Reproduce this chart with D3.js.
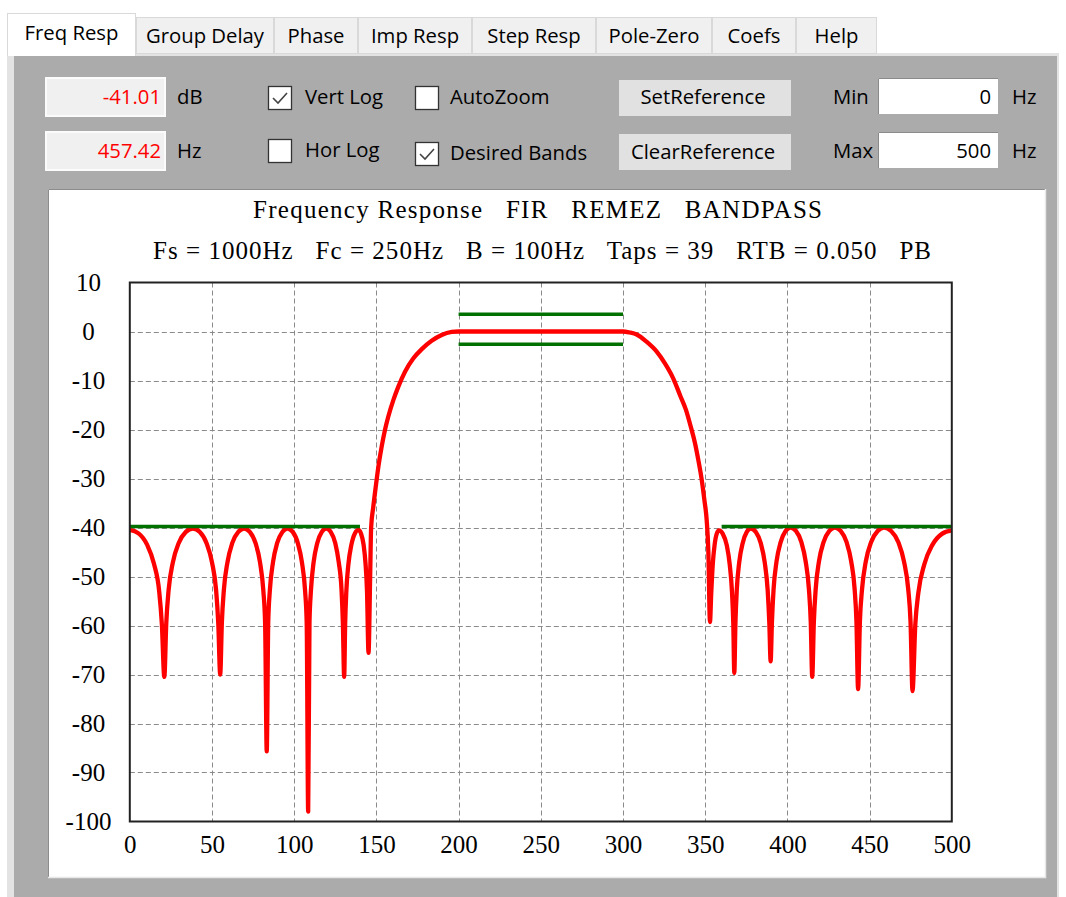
<!DOCTYPE html>
<html><head><meta charset="utf-8">
<script src="https://cdn.jsdelivr.net/npm/d3@7"></script>
<style>
html,body{margin:0;padding:0;background:#fff;overflow:hidden;}
svg{display:block;}
.ui{font-family:"Open Sans","Noto Sans",sans-serif;font-size:20.3px;fill:#000;}
.serif{font-family:"Liberation Serif","DejaVu Serif",serif;font-size:25px;fill:#000;}
</style></head><body>
<svg id="c" width="1066" height="897"></svg>
<script>
// ---------- data ----------
const tabLabels = ["Freq Resp","Group Delay","Phase","Imp Resp","Step Resp","Pole-Zero","Coefs","Help"];
const titleLine1 = "Frequency Response   FIR   REMEZ   BANDPASS";
const titleLine2 = "Fs = 1000Hz   Fc = 250Hz   B = 100Hz   Taps = 39   RTB = 0.050   PB";
const readoutDb = "-41.01";
const readoutHz = "457.42";
const minHz = "0";
const maxHz = "500";
const checkLabels = ["Vert Log","Hor Log","AutoZoom","Desired Bands"];
const checkStates = [true,false,false,true];
const buttonLabels = ["SetReference","ClearReference"];

const xTicks = [0,50,100,150,200,250,300,350,400,450,500];
const yTicks = [10,0,-10,-20,-30,-40,-50,-60,-70,-80,-90,-100];

const freqHz = [0,5.3,10.5,14.7,17.9,19.5,21.0,22.2,23.6,26.2,29.7,34.1,38.4,42.6,46.7,50.0,52.5,53.8,55.0,
 56.0,57.2,59.4,62.3,66.0,69.6,73.0,76.5,79.2,81.2,82.3,83.3,84.2,85.2,87.1,89.6,92.8,95.9,99.1,102.2,104.7,
 106.6,107.6,108.5,109.3,110.2,111.8,114.0,116.8,119.5,122.2,125.0,127.1,128.8,129.6,130.4,131.0,131.7,133.0,
 134.8,136.9,139.1,140.6,142.2,143.4,144.3,145.2,146.2,146.8,148.1,149.6,151.2,153.2,155.2,157.2,160.3,163.3,
 167.4,172.4,177.6,183.6,189.7,195.8,200.0,250.0,300.0,304.0,308.3,314.4,320.5,325.5,330.6,334.7,338.3,341.2,
 343.8,345.8,347.9,349.5,350.9,351.9,352.9,353.7,354.6,355.7,357.0,358.4,360.7,363.1,364.9,366.3,367.1,367.7,
 368.4,369.2,370.7,372.8,375.3,377.8,380.8,383.8,386.2,388.0,389.0,389.8,390.6,391.6,393.4,395.9,398.9,401.9,
 405.2,408.5,411.1,413.1,414.2,415.1,416.1,417.2,419.2,422.0,425.5,428.9,432.4,436.0,438.8,440.9,442.0,443.0,
 444.1,445.4,447.7,450.9,454.9,458.8,463.1,467.5,470.9,473.5,474.9,476.1,477.8,479.7,483.3,488.1,494.0,500.0];
const magDb = [-40.5,-41.2,-43.5,-47.4,-53.1,-59.7,-70.5,-59.4,-52.8,-47.1,-43.2,-40.9,-40.2,-40.9,-43.2,-47.1,-52.8,-59.4,-70.0,
 -59.4,-52.8,-47.1,-43.2,-40.9,-40.2,-40.9,-43.2,-47.1,-52.8,-59.4,-85.7,-59.4,-52.8,-47.1,-43.2,-40.9,-40.2,-40.9,-43.2,-47.1,
 -52.8,-59.4,-98.0,-59.4,-52.8,-47.1,-43.2,-40.9,-40.2,-40.9,-43.2,-47.1,-52.8,-59.4,-70.5,-59.7,-53.1,-47.4,
 -43.5,-41.2,-40.5,-41.2,-43.5,-47.4,-53.1,-65.6,-50.0,-40.0,-35.8,-31.7,-27.6,-23.5,-20.1,-17.4,-14.0,-11.3,
 -8.2,-5.5,-3.6,-1.9,-0.7,-0.1,0.0,0.0,0.0,-0.2,-0.6,-2.1,-4.1,-6.5,-9.6,-13.0,-16.0,-19.4,
 -22.8,-26.2,-30.3,-34.4,-38.5,-44.7,-59.3,-53.2,-47.5,-43.6,-41.3,-40.6,-41.3,-43.6,-47.5,-53.2,-59.8,-69.7,
 -59.4,-52.8,-47.1,-43.2,-40.9,-40.2,-40.9,-43.2,-47.1,-52.8,-59.4,-67.3,-59.2,-52.6,-46.9,-43.0,-40.7,-40.0,
 -40.7,-43.0,-46.9,-52.6,-59.2,-70.5,-59.2,-52.6,-46.9,-43.0,-40.7,-40.0,-40.7,-43.0,-46.9,-52.6,-59.2,-73.0,
 -59.2,-52.6,-46.9,-43.0,-40.7,-40.0,-40.7,-43.0,-46.9,-52.6,-59.2,-73.4,-59.8,-53.2,-47.5,-43.6,-41.3,-40.6];

const passbandHz = [200,300];
const passbandLimitsDb = [3.5,-2.6];
const stopbandsHz = [[0,140],[360,500]];
const stopbandDb = -40;

// ---------- layout ----------
const svg = d3.select("#c");
const W = 1066, H = 897;
const tabEdges = [7,136,274,358,472,596,712,796,877];

svg.append("rect").attr("x",0).attr("y",0).attr("width",W).attr("height",H).attr("fill","#fff");
svg.append("rect").attr("x",7).attr("y",53).attr("width",1052).attr("height",H-53).attr("fill","#e3e3e3");
svg.append("rect").attr("x",14).attr("y",56).attr("width",1043).attr("height",H-56).attr("fill","#ababab");

// tabs
const tabs = svg.append("g");
tabLabels.forEach((t,i)=>{
  const x0 = tabEdges[i], x1 = tabEdges[i+1];
  const sel = i===0;
  tabs.append("rect").attr("x",x0+0.5).attr("y",sel?13.5:17.5)
    .attr("width",x1-x0-1).attr("height",sel?42:36)
    .attr("fill",sel?"#fff":"#f0f0f0").attr("stroke","#d9d9d9").attr("stroke-width",1);
  tabs.append("text").attr("class","ui").attr("x",(x0+x1)/2).attr("y",sel?40:43)
    .attr("text-anchor","middle").text(t);
});
svg.append("rect").attr("x",8).attr("y",53).attr("width",127).attr("height",3).attr("fill","#fff");

// readouts
function readout(y, val, unit){
  svg.append("rect").attr("x",46).attr("y",y).attr("width",119).attr("height",38)
    .attr("fill","#f0f0f0").attr("stroke","#fbfbfb").attr("stroke-width",2);
  svg.append("text").attr("class","ui").attr("x",161).attr("y",y+26).attr("text-anchor","end")
    .style("fill","#ff0000").text(val);
  svg.append("text").attr("class","ui").attr("x",177).attr("y",y+26).text(unit);
}
readout(78, readoutDb, "dB");
readout(132, readoutHz, "Hz");

// checkboxes
const checkPos = [[268,86,305,104],[268,139,305,157],[415,86,450,104],[415,142,450,160]];
checkLabels.forEach((lab,i)=>{
  const [bx,by,tx,ty] = checkPos[i];
  svg.append("rect").attr("x",bx+0.5).attr("y",by+0.5).attr("width",23).attr("height",23)
    .attr("fill","#fff").attr("stroke","#333").attr("stroke-width",1.3);
  if(checkStates[i]){
    svg.append("path").attr("d",`M${bx+5},${by+12} L${bx+10},${by+17} L${bx+19},${by+7}`)
      .attr("fill","none").attr("stroke","#444").attr("stroke-width",1.6);
  }
  svg.append("text").attr("class","ui").attr("x",tx).attr("y",ty).text(lab);
});

// buttons
[[80,104],[134,159]].forEach(([y,ty],i)=>{
  svg.append("rect").attr("x",619).attr("y",y).attr("width",172).attr("height",36).attr("fill","#e1e1e1");
  svg.append("text").attr("class","ui").attr("x",703).attr("y",ty).attr("text-anchor","middle").text(buttonLabels[i]);
});

// min / max
function rangeBox(y, lab, val, ty){
  svg.append("text").attr("class","ui").attr("x",833).attr("y",ty).text(lab);
  svg.append("rect").attr("x",878).attr("y",y).attr("width",120).attr("height",36).attr("fill","#fff");
  svg.append("path").attr("d",`M878.5,${y+36} V${y+0.5} H998`).attr("fill","none").attr("stroke","#8a8a8a");
  svg.append("text").attr("class","ui").attr("x",991).attr("y",ty).attr("text-anchor","end").text(val);
  svg.append("text").attr("class","ui").attr("x",1012).attr("y",ty).text("Hz");
}
rangeBox(78,"Min",minHz,104);
rangeBox(132,"Max",maxHz,158);

// chart panel
svg.append("rect").attr("x",48).attr("y",189).attr("width",997).attr("height",688).attr("fill","#fff");
svg.append("path").attr("d","M48.5,877 V189.5 H1045").attr("fill","none").attr("stroke","#8c8c8c").attr("stroke-width",1);
svg.append("path").attr("d","M1045.5,189 V877.5 H48").attr("fill","none").attr("stroke","#e8e8e8").attr("stroke-width",1.5);

// scales
const x = d3.scaleLinear().domain([0,500]).range([129.8,951.8]);
const y = d3.scaleLinear().domain([-100,10]).range([821.5,282.5]);

// titles
svg.append("text").attr("class","serif").attr("x",253).attr("y",218)
  .attr("textLength",569).attr("lengthAdjust","spacing")
  .style("white-space","pre").text(titleLine1);
svg.append("text").attr("class","serif").attr("x",153).attr("y",259)
  .attr("textLength",778).attr("lengthAdjust","spacing")
  .style("white-space","pre").text(titleLine2);

// grid
const grid = svg.append("g").attr("stroke","#8a8a8a").attr("stroke-width",1).attr("stroke-dasharray","5,3");
xTicks.filter(v=>v>0&&v<500).forEach(v=>{
  grid.append("line").attr("x1",Math.round(x(v))+0.5).attr("x2",Math.round(x(v))+0.5)
    .attr("y1",y(10)).attr("y2",y(-100));
});
yTicks.filter(v=>v<10&&v>-100).forEach(v=>{
  grid.append("line").attr("y1",Math.round(y(v))+0.5).attr("y2",Math.round(y(v))+0.5)
    .attr("x1",x(0)).attr("x2",x(500));
});

// axes labels via d3 axes
const fmt = d => String(d);
const xAxis = svg.append("g").attr("transform",`translate(0,${y(-100)})`)
  .call(d3.axisBottom(x).tickValues(xTicks).tickSize(0).tickPadding(0).tickFormat(fmt));
xAxis.select(".domain").remove();
xAxis.selectAll("text").attr("class","serif").attr("y",31.5).attr("dy",null).attr("fill",null);
xAxis.attr("font-size",null).attr("font-family",null);

const yAxis = svg.append("g").attr("transform",`translate(88.5,0)`)
  .call(d3.axisLeft(y).tickValues(yTicks).tickSize(0).tickPadding(0).tickFormat(fmt));
yAxis.select(".domain").remove();
yAxis.selectAll("text").attr("class","serif").attr("x",0).attr("dy","0.3em").attr("text-anchor","middle")
  .attr("fill",null);
yAxis.attr("font-size",null).attr("font-family",null).attr("text-anchor",null);

// response curve
const pts = freqHz.map((f,i)=>[f,magDb[i]]);
const line = d3.line().x(d=>x(d[0])).y(d=>y(d[1])).curve(d3.curveMonotoneX);
svg.append("path").datum(pts).attr("d",line).attr("fill","none")
  .attr("stroke","#ff0000").attr("stroke-width",4.3).attr("stroke-linejoin","round");

// desired bands
const green = svg.append("g").attr("stroke","#007000").attr("stroke-width",3.5);
passbandLimitsDb.forEach(db=>{
  green.append("line").attr("x1",x(passbandHz[0])).attr("x2",x(passbandHz[1]))
    .attr("y1",y(db)).attr("y2",y(db));
});
stopbandsHz.forEach(b=>{
  green.append("line").attr("x1",x(b[0])).attr("x2",x(b[1]))
    .attr("y1",y(stopbandDb)-1).attr("y2",y(stopbandDb)-1);
});

// frame
svg.append("rect").attr("x",x(0)).attr("y",y(10)).attr("width",x(500)-x(0)).attr("height",y(-100)-y(10))
  .attr("fill","none").attr("stroke","#222").attr("stroke-width",2);
</script>
</body></html>
